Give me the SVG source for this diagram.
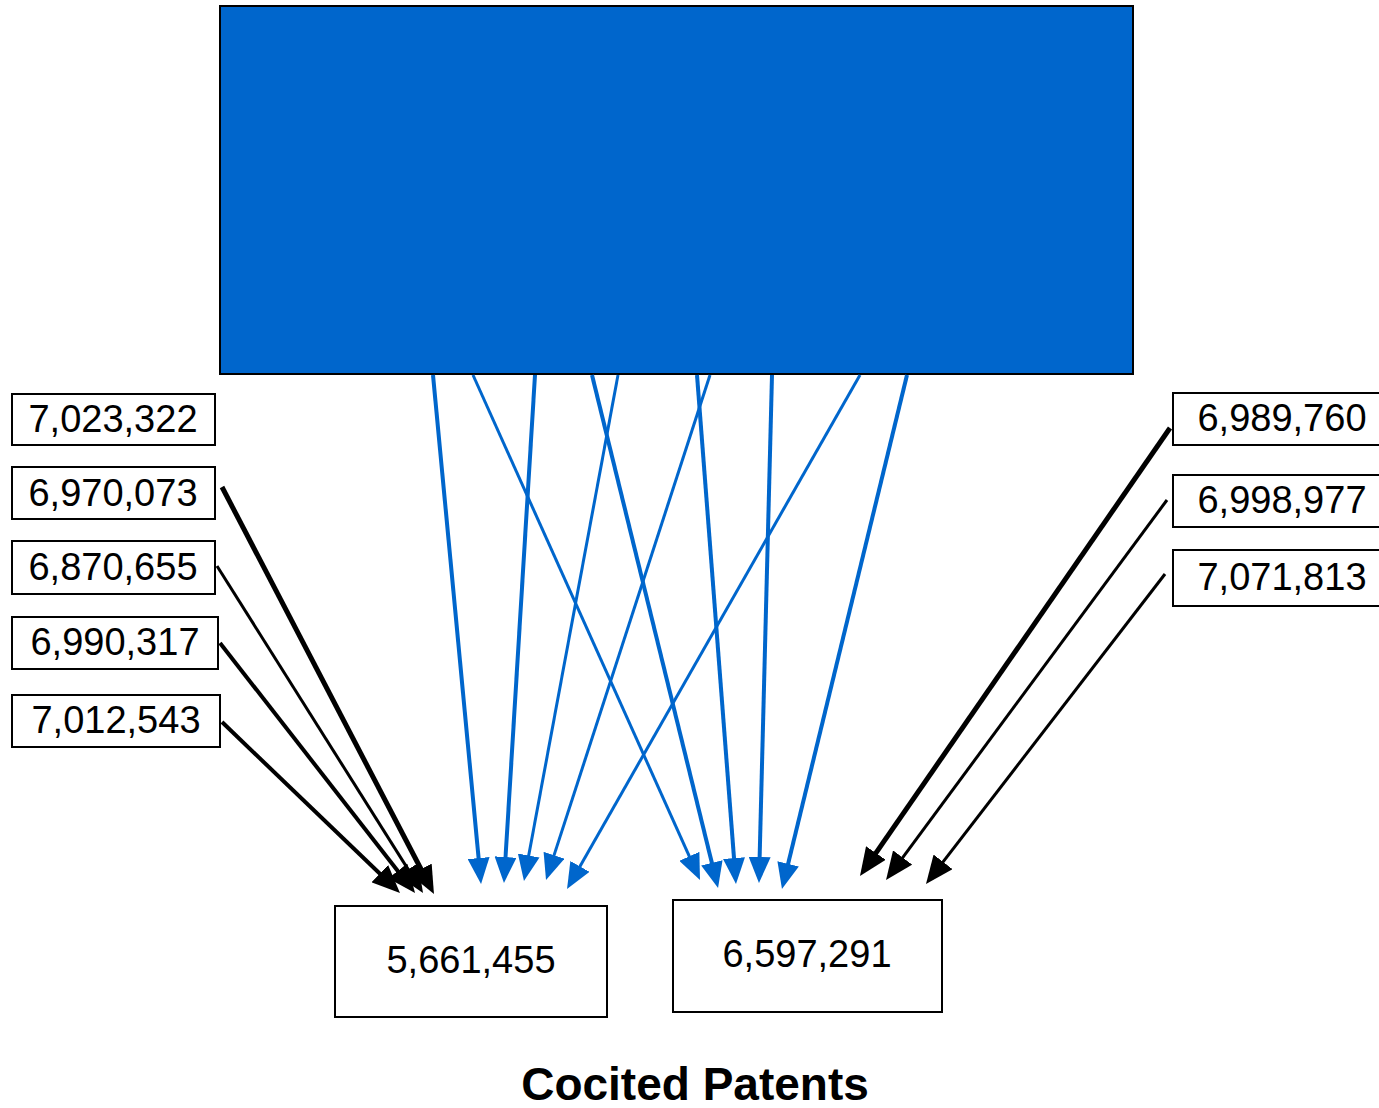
<svg xmlns="http://www.w3.org/2000/svg" width="1379" height="1108" viewBox="0 0 1379 1108">
<style>
.box{fill:#fff;stroke:#000;stroke-width:2}
.t{font-family:"Liberation Sans",Arial,sans-serif;font-size:38px;fill:#000;text-anchor:middle}
.blue{stroke:#0066CC;fill:none}
.blk{stroke:#000;fill:none}
.w4{stroke-width:4}
.w3{stroke-width:3}
.w5{stroke-width:5}
</style>
<defs>
<marker id="ab" viewBox="0 0 26 22" refX="17" refY="11" markerWidth="26" markerHeight="22" markerUnits="userSpaceOnUse" orient="auto">
<path d="M0,0 L26,11 L0,22 z" fill="#0066CC"/>
</marker>
<marker id="ak" viewBox="0 0 28 24" refX="19" refY="12" markerWidth="28" markerHeight="24" markerUnits="userSpaceOnUse" orient="auto">
<path d="M0,0 L28,12 L0,24 z" fill="#000"/>
</marker>
</defs>
<g id="source">
<rect x="220" y="6" width="913" height="368" fill="#0066CC" stroke="#000" stroke-width="2"/>
</g>
<g id="connectors">
<line class="blue w4" x1="433" y1="375" x2="480.2" y2="875" marker-end="url(#ab)"/>
<line class="blue w3" x1="473" y1="375" x2="696.3" y2="871.8" marker-end="url(#ab)"/>
<line class="blue w4" x1="535" y1="375" x2="504.5" y2="874" marker-end="url(#ab)"/>
<line class="blue w4" x1="592" y1="375" x2="715.9" y2="879.3" marker-end="url(#ab)"/>
<line class="blue w3" x1="618" y1="375" x2="525.6" y2="872.2" marker-end="url(#ab)"/>
<line class="blue w4" x1="697" y1="375" x2="735.3" y2="875" marker-end="url(#ab)"/>
<line class="blue w3" x1="710" y1="375" x2="548.8" y2="871.4" marker-end="url(#ab)"/>
<line class="blue w4" x1="772" y1="375" x2="759.2" y2="874" marker-end="url(#ab)"/>
<line class="blue w3" x1="860" y1="375" x2="571.5" y2="881.2" marker-end="url(#ab)"/>
<line class="blue w4" x1="907" y1="375" x2="784.1" y2="880.3" marker-end="url(#ab)"/>
<line class="blk w5" x1="222" y1="487" x2="429.8" y2="886" marker-end="url(#ak)"/>
<line class="blk w3" x1="217" y1="566" x2="418.2" y2="885.4" marker-end="url(#ak)"/>
<line class="blk w4" x1="220" y1="643" x2="409.5" y2="885.9" marker-end="url(#ak)"/>
<line class="blk w4" x1="222" y1="722" x2="393.5" y2="886.8" marker-end="url(#ak)"/>
<line class="blk w5" x1="1170" y1="428" x2="865.1" y2="868.6" marker-end="url(#ak)"/>
<line class="blk w3" x1="1167" y1="500" x2="891.4" y2="872.8" marker-end="url(#ak)"/>
<line class="blk w3" x1="1165" y1="574" x2="931.5" y2="876.9" marker-end="url(#ak)"/>
</g>
<g id="n7023322"><rect class="box" x="12" y="394" width="203" height="51"/><text class="t" x="113" y="432">7,023,322</text></g>
<g id="n6970073"><rect class="box" x="12" y="467" width="203" height="52"/><text class="t" x="113" y="506">6,970,073</text></g>
<g id="n6870655"><rect class="box" x="12" y="541" width="203" height="53"/><text class="t" x="113" y="580">6,870,655</text></g>
<g id="n6990317"><rect class="box" x="12" y="617" width="206" height="52"/><text class="t" x="115" y="655">6,990,317</text></g>
<g id="n7012543"><rect class="box" x="12" y="695" width="208" height="52"/><text class="t" x="116" y="733">7,012,543</text></g>
<g id="n6989760"><rect class="box" x="1173" y="393" width="210" height="52"/><text class="t" x="1282" y="431">6,989,760</text></g>
<g id="n6998977"><rect class="box" x="1173" y="475" width="210" height="52"/><text class="t" x="1282" y="513">6,998,977</text></g>
<g id="n7071813"><rect class="box" x="1173" y="550" width="210" height="56"/><text class="t" x="1282" y="590">7,071,813</text></g>
<g id="n5661455"><rect class="box" x="335" y="906" width="272" height="111"/><text class="t" x="471" y="973">5,661,455</text></g>
<g id="n6597291"><rect class="box" x="673" y="900" width="269" height="112"/><text class="t" x="807" y="967">6,597,291</text></g>
<g id="caption"><text x="695" y="1100" font-family="Liberation Sans,Arial,sans-serif" font-size="46" font-weight="bold" text-anchor="middle">Cocited Patents</text></g>
</svg>
